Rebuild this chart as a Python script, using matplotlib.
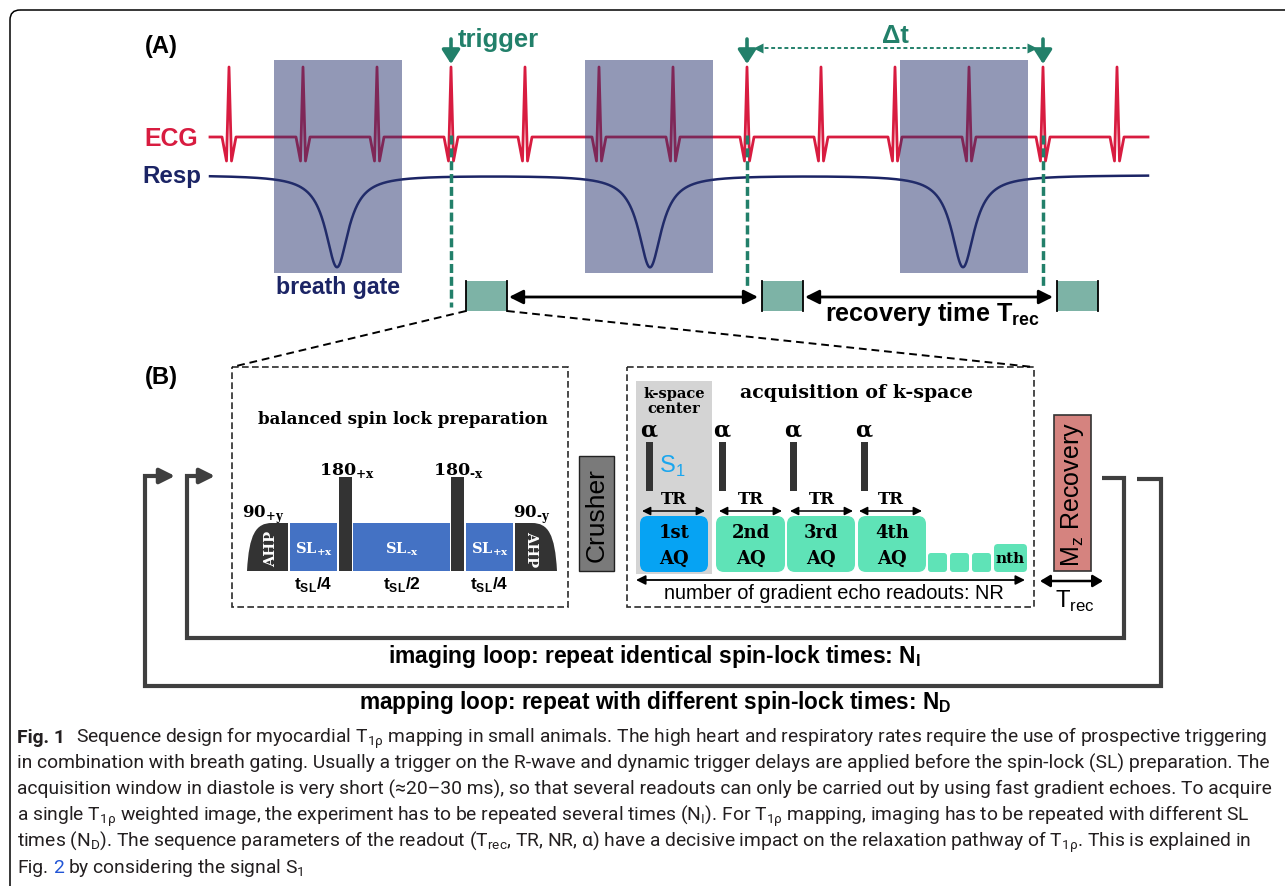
import numpy as np
import matplotlib.pyplot as plt
from matplotlib import font_manager
from matplotlib.patches import Rectangle, FancyBboxPatch, PathPatch
from matplotlib.path import Path

# the figure is drawn in image pixels: x to the right, y downwards
W, H = 1285, 887

# panel A: ECG / respiration timing (x positions in px)
ecg_beats = [229, 303, 377, 451, 525, 599, 673, 747, 821, 895, 969, 1043, 1117]
trigger_beats = [451, 747, 1043]
trigger_line_end = [308, 290, 290]
gate_spans = [(274, 402), (585, 713), (900, 1028)]
resp_dips = [337, 650, 963]
readout_starts = [466, 762, 1057]

# panel B: balanced spin-lock preparation
ahp_spans = [(247, 288), (515, 557)]
ahp_phase = ['+y', '\u2010y']
sl_spans = [(290, 337), (353, 450), (466, 513)]
sl_phase = ['+x', '\u2010x', '+x']
sl_fraction = ['/4', '/2', '/4']
p180_spans = [(339, 352), (451, 464)]
p180_phase = ['+x', '\u2010x']

# panel B: k-space readout
alpha_x = [649, 722, 793, 864]
tr_spans = [(642, 705), (719, 782), (790, 853), (859, 922)]
aq_spans = [(640, 708), (716, 785), (787, 855), (858, 926)]
aq_names = ['1st', '2nd', '3rd', '4th']
small_aq = [928, 950, 972]

RHO = '$_\\mathregular{1ρ}$'
caption_first = 'Fig. 1'
caption_lines = [
    'Sequence design for myocardial T' + RHO + ' mapping in small animals. The high heart and '
    'respiratory rates require the use of prospective triggering',
    'in combination with breath gating. Usually a trigger on the R-wave and dynamic trigger delays '
    'are applied before the spin-lock (SL) preparation. The',
    'acquisition window in diastole is very short (≈20–30 ms), so that several readouts can only be '
    'carried out by using fast gradient echoes. To acquire',
    'a single T' + RHO + ' weighted image, the experiment has to be repeated several times '
    '(N$_\\mathregular{I}$). For T' + RHO + ' mapping, imaging has to be repeated with different SL',
    'times (N$_\\mathregular{D}$). The sequence parameters of the readout (T$_\\mathregular{rec}$, '
    'TR, NR, α) have a decisive impact on the relaxation pathway of T' + RHO + '. This is explained in',
]
caption_last = 'by considering the signal S$_\\mathregular{1}$'
caption_base = [743, 769, 795, 821, 847, 873]

RED = '#d81c40'
NAVY = '#1b2465'
GATE = '#27336e'
TEAL = '#22806a'
BOX_TEAL = '#7db3a6'
SL_BLUE = '#4472c4'
DARK = '#333333'
AQ_BLUE = '#06a3f3'
AQ_GREEN = '#5fe3b7'
KGRAY = '#d4d4d4'
CRUSH = '#7a7a7a'
MZ = '#d5837f'
LOOP = '#3f3f3f'
S1_BLUE = '#1aa6ee'
CAP = '#231f20'
LINK = '#2155d6'

SERIF = 'DejaVu Serif'
SANS = 'Liberation Sans'


def first_font(*names):
    for n in names:
        try:
            font_manager.findfont(n, fallback_to_default=False)
            return n
        except ValueError:
            pass
    return 'DejaVu Sans'


CAP_FONT = first_font('Liberation Sans Narrow', 'Roboto')

fig = plt.figure(figsize=(W / 100, H / 100), dpi=100)
ax = fig.add_axes([0, 0, 1, 1])
ax.set_xlim(0, W)
ax.set_ylim(H, 0)
ax.axis('off')
renderer = fig.canvas.get_renderer()


def text_width(s, **kw):
    t = ax.text(0, 0, s, **kw)
    w = t.get_window_extent(renderer=renderer).width
    t.remove()
    return w


def fit_text(x, y, s, width, **kw):
    """Draw text and scale its font so that it is `width` px wide."""
    w = text_width(s, fontsize=10, **kw)
    return ax.text(x, y, s, fontsize=10 * width / w, **kw)


def arrow(x0, y0, x1, y1, style, lw, scale, color='black', z=4):
    ax.annotate('', xy=(x1, y1), xytext=(x0, y0), zorder=z,
                arrowprops=dict(arrowstyle=style, color=color, lw=lw,
                                mutation_scale=scale, shrinkA=0, shrinkB=0))


# outer frame of the figure
ax.add_patch(FancyBboxPatch((10, 11), 1500, 1000, boxstyle='round,pad=0,rounding_size=10',
                            fc='none', ec='black', lw=1.1))

# ---------------- panel A ----------------
fit_text(145, 46, '(A)', 33, ha='left', va='center', weight='bold', family=SANS)

ecg_x, ecg_y = [210], [138]
for b in ecg_beats:
    ecg_x += [b - 7, b - 2.5, b, b + 2.5, b + 7]
    ecg_y += [138, 162, 68, 162, 138]
ecg_x.append(1148)
ecg_y.append(138)
ax.plot(ecg_x, ecg_y, color=RED, lw=2.0, zorder=2)

t = np.linspace(210, 1148, 3000)
resp = np.full_like(t, 176.0)
for c in resp_dips:
    resp += 92 * 14 ** 2 / ((t - c) ** 2 + 14 ** 2)
ax.plot(t, resp, color=NAVY, lw=1.8, zorder=2)

for x0, x1 in gate_spans:
    ax.add_patch(Rectangle((x0, 61), x1 - x0, 213, fc=GATE, alpha=0.5, ec='none', zorder=3))

fit_text(198, 139, 'ECG', 54, ha='right', va='center', color=RED, weight='bold', family=SANS)
fit_text(201, 177, 'Resp', 59, ha='right', va='center', color=NAVY, weight='bold', family=SANS)
fit_text(338, 288, 'breath gate', 125, ha='center', va='center', color=NAVY,
         weight='bold', family=SANS)

for x, y_end in zip(trigger_beats, trigger_line_end):
    arrow(x, 40, x, 65, '-|>,head_length=0.7,head_width=0.45', 2.6, 12, color=TEAL, z=5)
    ax.plot([x, x], [136, y_end], color=TEAL, lw=2.5, dashes=(2.6, 1.1), zorder=5)
fit_text(458, 40, 'trigger', 82, ha='left', va='center', color=TEAL, weight='bold', family=SANS)

# delta t between two triggers
dt0, dt1 = trigger_beats[1] + 11, trigger_beats[2] - 11
ax.plot([dt0, dt1], [49, 49], color=TEAL, lw=1.4, dashes=(2, 1.4))
ax.plot([dt0], [49], marker='<', ms=7, color=TEAL, mec='none')
ax.plot([dt1], [49], marker='>', ms=7, color=TEAL, mec='none')
fit_text((trigger_beats[1] + trigger_beats[2]) / 2, 36, 'Δt', 27, ha='center', va='center',
         color=TEAL, weight='bold', family=SANS)

for x in readout_starts:
    ax.add_patch(Rectangle((x, 282), 41, 30, fc=BOX_TEAL, ec='none', zorder=4))
    ax.plot([x, x], [282, 312], color='black', lw=1.3, zorder=4)
    ax.plot([x + 41, x + 41], [282, 312], color='black', lw=1.3, zorder=4)
for a, b in zip(readout_starts[:-1], readout_starts[1:]):
    arrow(a + 43, 298, b - 4, 298, '<|-|>,head_length=0.6,head_width=0.3', 2.0, 14)
fit_text(932, 314, 'recovery time T$_\\mathregular{rec}$', 216, ha='center', va='center',
         weight='bold', family=SANS)

# zoom lines from the first readout to panel B
ax.plot([readout_starts[0], 232], [312, 368], color='black', lw=1.4, dashes=(4, 2.5))
ax.plot([readout_starts[0] + 41, 1033], [312, 368], color='black', lw=1.4, dashes=(4, 2.5))

# ---------------- panel B ----------------
fit_text(145, 378, '(B)', 33, ha='left', va='center', weight='bold', family=SANS)
for x0, x1 in [(232, 568), (627, 1034)]:
    ax.add_patch(Rectangle((x0, 368), x1 - x0, 240, fc='none', ec='#2b2b2b', lw=1.2,
                           ls=(0, (4, 2))))

fit_text(403, 420, 'balanced spin lock preparation', 290, ha='center', va='center',
         family=SERIF, weight='bold')

BASE, SL_TOP, P_TOP = 572, 524, 478
serif_b = dict(family=SERIF, weight='bold')
for (x0, x1), ph, fr in zip(sl_spans, sl_phase, sl_fraction):
    ax.add_patch(Rectangle((x0, SL_TOP), x1 - x0, BASE - SL_TOP, fc=SL_BLUE, ec='none'))
    ax.text((x0 + x1) / 2, 549, 'SL$_\\mathregular{%s}$' % ph, ha='center', va='center',
            color='white', fontsize=10.5, **serif_b)
    ax.text((x0 + x1) / 2, 585, 't$_\\mathregular{SL}$' + fr, ha='center', va='center',
            fontsize=12.5, family=SANS, weight='bold')

for (x0, x1), ph in zip(p180_spans, p180_phase):
    ax.add_patch(Rectangle((x0, P_TOP), x1 - x0, BASE - P_TOP, fc=DARK, ec='none'))
    ax.text((x0 + x1) / 2 + 1, 475, '180$_\\mathregular{%s}$' % ph, ha='center',
            va='baseline', fontsize=12.5, **serif_b)

for i, ((x0, x1), ph) in enumerate(zip(ahp_spans, ahp_phase)):
    if i == 0:
        verts = [(x0, BASE), (x0 + 2, 535), (x0 + 9, SL_TOP), (x0 + 25, SL_TOP),
                 (x1, SL_TOP), (x1, BASE), (x0, BASE)]
    else:
        verts = [(x1, BASE), (x1 - 2, 535), (x1 - 9, SL_TOP), (x1 - 25, SL_TOP),
                 (x0, SL_TOP), (x0, BASE), (x1, BASE)]
    codes = [Path.MOVETO, Path.CURVE4, Path.CURVE4, Path.CURVE4,
             Path.LINETO, Path.LINETO, Path.CLOSEPOLY]
    ax.add_patch(PathPatch(Path(verts, codes), fc=DARK, ec='none'))
    mid = (x0 + x1) / 2
    ax.text(mid + (4 if i == 0 else -5), 549, 'AHP', rotation=90 if i == 0 else -90,
            ha='center', va='center', color='white', fontsize=10.5, **serif_b)
    ax.text(mid - 4, 518, '90$_\\mathregular{%s}$' % ph, ha='center', va='baseline',
            fontsize=12, **serif_b)

# crusher
ax.add_patch(Rectangle((579, 457), 35, 115, fc=CRUSH, ec='#222222', lw=1))
ax.text(597, 515, 'Crusher', rotation=90, ha='center', va='center', fontsize=19, family=SANS)

# k-space acquisition
ax.add_patch(Rectangle((636, 382), 76, 193, fc=KGRAY, ec='none', zorder=0.5))
ax.text(674, 394, 'k-space', ha='center', va='center', fontsize=10.5, **serif_b)
ax.text(674, 409, 'center', ha='center', va='center', fontsize=10.5, **serif_b)
fit_text(856, 393, 'acquisition of k-space', 234, ha='center', va='center', **serif_b)

for x in alpha_x:
    ax.text(x, 431, 'α', ha='center', va='center', fontsize=16, **serif_b)
    ax.add_patch(Rectangle((x - 3.5, 443), 7, 49, fc=DARK, ec='none'))
ax.text(672, 466, 'S$_\\mathregular{1}$', ha='center', va='center', color=S1_BLUE,
        fontsize=17, family=SANS)

for x0, x1 in tr_spans:
    arrow(x0, 512, x1, 512, '<|-|>,head_length=0.5,head_width=0.25', 1.1, 10)
    ax.text((x0 + x1) / 2, 500, 'TR', ha='center', va='center', fontsize=12, **serif_b)

for (x0, x1), name, col in zip(aq_spans, aq_names, [AQ_BLUE] + [AQ_GREEN] * 3):
    ax.add_patch(FancyBboxPatch((x0, 517), x1 - x0, 56, boxstyle='round,pad=0,rounding_size=8',
                                fc=col, ec='none'))
    ax.text((x0 + x1) / 2, 533, name, ha='center', va='center', fontsize=13, **serif_b)
    ax.text((x0 + x1) / 2, 559, 'AQ', ha='center', va='center', fontsize=13, **serif_b)
for x in small_aq:
    ax.add_patch(FancyBboxPatch((x, 554), 19, 19, boxstyle='round,pad=0,rounding_size=3',
                                fc=AQ_GREEN, ec='none'))
ax.add_patch(FancyBboxPatch((994, 545), 33, 28, boxstyle='round,pad=0,rounding_size=4',
                            fc=AQ_GREEN, ec='none'))
ax.text(1010.5, 559, 'nth', ha='center', va='center', fontsize=11, **serif_b)

arrow(636, 581, 1025, 581, '<|-|>,head_length=0.5,head_width=0.25', 1.3, 11)
fit_text(834, 594, 'number of gradient echo readouts: NR', 342, ha='center', va='center',
         family=SANS)

# magnetisation recovery
ax.add_patch(Rectangle((1054, 416), 37, 156, fc=MZ, ec='#333333', lw=1.2))
ax.text(1073, 494, 'M$_\\mathregular{z}$ Recovery', rotation=90, ha='center', va='center',
        fontsize=18, family=SANS)
arrow(1040, 582, 1103, 582, '<|-|>,head_length=0.5,head_width=0.3', 1.8, 12)
fit_text(1075, 601, 'T$_\\mathregular{rec}$', 41, ha='center', va='center', family=SANS)

# imaging loop (inner) and mapping loop (outer)
loops = [([1102, 1124, 1124, 187, 187, 203], [479, 479, 639, 639, 477, 477], 215),
         ([1137, 1161, 1161, 145, 145, 163], [480, 480, 687, 687, 477, 477], 175)]
for xs, ys, tip in loops:
    ax.plot(xs, ys, color=LOOP, lw=3, solid_joinstyle='miter', solid_capstyle='butt')
    arrow(xs[-1] - 1, ys[-1], tip, ys[-1], '-|>,head_length=0.9,head_width=0.45', 3, 10,
          color=LOOP)
fit_text(655, 657, 'imaging loop: repeat identical spin-lock times: N$_\\mathregular{I}$', 533,
         ha='center', va='center', weight='bold', family=SANS)
fit_text(655, 703, 'mapping loop: repeat with different spin-lock times: N$_\\mathregular{D}$', 595,
         ha='center', va='center', weight='bold', family=SANS)

# ---------------- caption ----------------
cap_family = [CAP_FONT, 'DejaVu Sans']
size0 = 10 * 1200 / text_width(caption_lines[0], fontsize=10, family=CAP_FONT)
w_bold = text_width(caption_first, fontsize=size0, family=CAP_FONT, weight='bold')
rest_x = 17 + w_bold + 10
cap_size = size0 * (1268 - rest_x) / 1200
cap = dict(ha='left', va='baseline', color=CAP, family=cap_family, fontsize=cap_size)
ax.text(17, caption_base[0], caption_first, weight='bold', **cap)
ax.text(rest_x, caption_base[0], caption_lines[0], **cap)
for s, y in zip(caption_lines[1:], caption_base[1:]):
    ax.text(17, y, s, **cap)

y_last = caption_base[-1]
w_fig2 = text_width('Fig. 2', **cap)
w_two = text_width('2', **cap)
w_fig2b = text_width('Fig. 2 b', **cap)
w_b = text_width('b', **cap)
ax.text(17, y_last, 'Fig.', **cap)
cap_link = dict(cap, color=LINK)
ax.text(17 + w_fig2 - w_two, y_last, '2', **cap_link)
ax.text(17 + w_fig2b - w_b, y_last, caption_last, **cap)

fig.savefig('out.png', dpi=100)
